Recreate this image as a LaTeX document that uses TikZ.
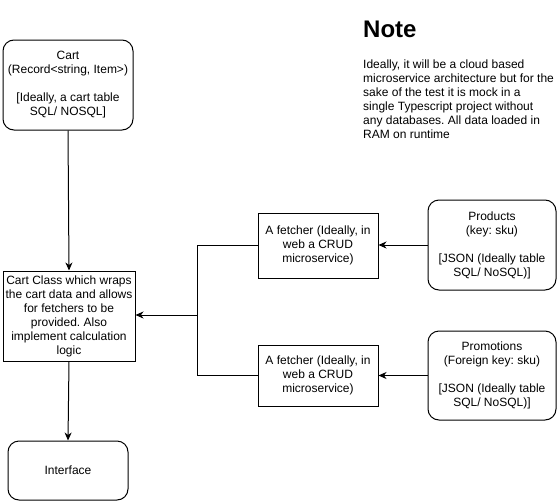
\documentclass[tikz,border=0pt]{standalone}
\usepackage{fontspec}
\setmainfont{Liberation Sans}
\usetikzlibrary{arrows.meta}
\frenchspacing
\begin{document}
\begin{tikzpicture}[x=1pt,y=-1pt,
  every node/.style={font=\fontsize{12}{14}\selectfont, align=center, inner sep=0pt},
  roundbox/.style={draw=black, line width=1pt, rounded corners=11pt},
  sqbox/.style={draw=black, line width=1pt},
  arr/.style={draw=black, line width=1pt, -{Stealth[length=8pt,width=7pt,inset=2.5pt]}},
  conn/.style={draw=black, line width=1pt}]
\useasboundingbox[fill=white] (0,0) rectangle (560,501);

% storage and entry boxes
\node[roundbox, minimum width=130pt, minimum height=90pt] (cart) at (68,85)
  {Cart\\(Record<string, Item>)\\[14pt][Ideally, a cart table\\SQL/ NOSQL]};
\node[sqbox, minimum width=132pt, minimum height=90pt] (cartclass) at (69,316)
  {Cart Class which wraps\\the cart data and allows\\for fetchers to be\\provided. Also\\implement calculation\\logic};
\node[roundbox, minimum width=120pt, minimum height=59pt] (iface) at (68,470.5) {Interface};

% fetchers
\node[sqbox, minimum width=120pt, minimum height=65pt] (fetch1) at (318,245.5)
  {A fetcher (Ideally, in\\web a CRUD\\microservice)};
\node[sqbox, minimum width=120pt, minimum height=61pt] (fetch2) at (318,375.5)
  {A fetcher (Ideally, in\\web a CRUD\\microservice)};

% data sources
\node[roundbox, minimum width=128pt, minimum height=90pt] (products) at (492,245)
  {Products\\(key: sku)\\[14pt][JSON (Ideally table\\SQL/ NoSQL)]};
\node[roundbox, minimum width=128pt, minimum height=89pt] (promos) at (492,375.5)
  {Promotions\\(Foreign key: sku)\\[14pt][JSON (Ideally table\\SQL/ NoSQL)]};

% note
\node[anchor=base west, font=\fontsize{24}{28}\selectfont\bfseries] (notehead) at (363,37) {Note};
\node[anchor=north west, align=left] (notebody) at (363,60)
  {Ideally, it will be a cloud based\\microservice architecture but for the\\sake of the test it is mock in a\\single Typescript project without\\any databases. All data loaded in\\RAM on runtime};

% connectors
\coordinate (jn) at (197,315);
\draw[arr] (cart.south) -- (cartclass.north);
\draw[arr] (cartclass.south) -- (iface.north);
\draw[arr] (products.west) -- (fetch1.east |- products.west);
\draw[arr] (promos.west) -- (fetch2.east |- promos.west);
\draw[conn] (fetch1.west) -| (jn);
\draw[conn] (fetch2.west) -| (jn);
\draw[arr] (jn) -- (cartclass.east |- jn);
\end{tikzpicture}
\end{document}
